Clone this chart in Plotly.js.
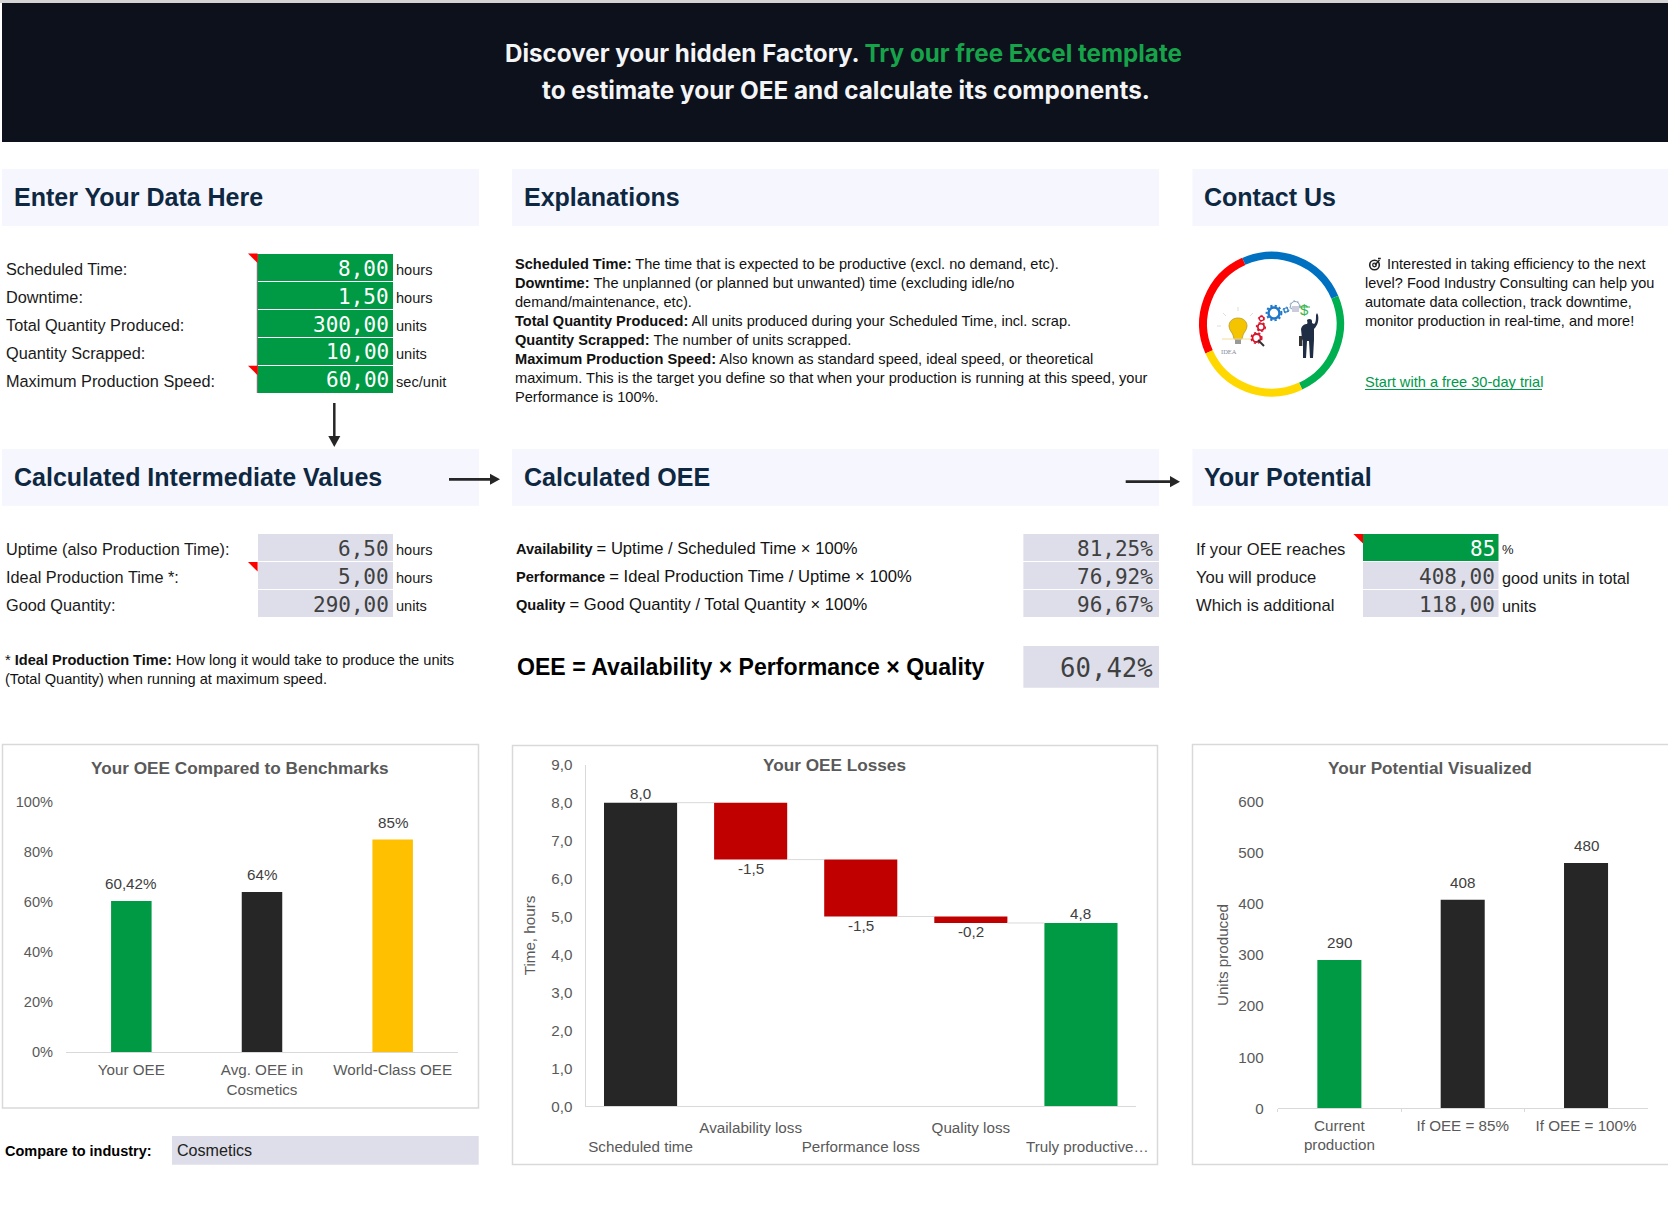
<!DOCTYPE html>
<html><head><meta charset="utf-8"><title>OEE</title>
<script src="https://cdn.plot.ly/plotly-3.0.1.min.js"></script>
<style>html,body{margin:0;padding:0;background:#fff;overflow:hidden}#page{width:1668px;height:1208px}</style>
</head><body><div id="page"></div>
<script>
// ---- chart data ----
const benchCategories = ['Your OEE', 'Avg. OEE in<br>Cosmetics', 'World-Class OEE'];
const benchValues = [60.42, 64, 85];
const benchLabels = ['60,42%', '64%', '85%'];
const benchTickValues = [0, 20, 40, 60, 80, 100];
const benchTickLabels = ['0%', '20%', '40%', '60%', '80%', '100%'];
const lossCategories = ['Scheduled time', 'Availability loss', 'Performance loss', 'Quality loss', '\u00A0\u00A0\u00A0Truly productive…'];
const lossValues = [8, -1.5, -1.5, -0.17, 4.83];
const lossBases = [0, 8, 6.5, 5, 0];
const lossLabels = ['8,0', '-1,5', '-1,5', '-0,2', '4,8'];
const potentialCategories = ['Current<br>production', 'If OEE = 85%', 'If OEE = 100%'];
const potentialValues = [290, 408, 480];
// ---- sheet data ----
const inputNames = ['Scheduled Time:', 'Downtime:', 'Total Quantity Produced:', 'Quantity Scrapped:', 'Maximum Production Speed:'];
const inputValues = ['8,00', '1,50', '300,00', '10,00', '60,00'];
const inputUnits = ['hours', 'hours', 'units', 'units', 'sec/unit'];
const interNames = ['Uptime (also Production Time):', 'Ideal Production Time *:', 'Good Quantity:'];
const interValues = ['6,50', '5,00', '290,00'];
const interUnits = ['hours', 'hours', 'units'];
const oeeBold = ['Availability', 'Performance', 'Quality'];
const oeeRest = ['= Uptime / Scheduled Time × 100%', '= Ideal Production Time / Uptime × 100%', '= Good Quantity / Total Quantity × 100%'];
const oeeValues = ['81,25%', '76,92%', '96,67%'];
const oeeTotal = '60,42%';
const potentialNames = ['If your OEE reaches', 'You will produce', 'Which is additional'];
const potentialCells = ['85', '408,00', '118,00'];
const potentialUnits = ['%', 'good units in total', 'units'];
const explanationLines = [
 '<b>Scheduled Time:</b> The time that is expected to be productive (excl. no demand, etc).',
 '<b>Downtime:</b> The unplanned (or planned but unwanted) time (excluding idle/no',
 'demand/maintenance, etc).',
 '<b>Total Quantity Produced:</b> All units produced during your Scheduled Time, incl. scrap.',
 '<b>Quantity Scrapped:</b> The number of units scrapped.',
 '<b>Maximum Production Speed:</b> Also known as standard speed, ideal speed, or theoretical',
 'maximum. This is the target you define so that when your production is running at this speed, your',
 'Performance is 100%.'];
const contactLines = ['Interested in taking efficiency to the next', 'level? Food Industry Consulting can help you', 'automate data collection, track downtime,', 'monitor production in real-time, and more!'];
const footnoteLines = ['* <b>Ideal Production Time:</b> How long it would take to produce the units', '(Total Quantity) when running at maximum speed.'];
const headerTitles = ['Enter Your Data Here', 'Explanations', 'Contact Us', 'Calculated Intermediate Values', 'Calculated OEE', 'Your Potential'];

// ---- styles ----
const W = 1668, H = 1208;
const GREEN = '#009A44', DARK = '#262626', RED = '#C00000', YEL = '#FFC000', CELL = '#DDDEE9', HEAD = '#F5F6FE', NAVY = '#0E2841', AXC = '#D9D9D9', AXT = '#595959', LBL = '#404040';
const SANS = '"Liberation Sans",Arial,sans-serif', MONO = '"DejaVu Sans Mono",monospace';
const X = v => v / W, Y = v => 1 - v / H;
const shapes = [], annotations = [];
function rect(x0, y0, x1, y1, fill, line) {
  shapes.push({type:'rect', xref:'paper', yref:'paper', x0:X(x0), x1:X(x1), y0:Y(y0), y1:Y(y1), fillcolor:fill||'rgba(0,0,0,0)', line: line||{width:0}, layer:'below'});
}
function poly(pts, fill) {
  const d = pts.map((p,i)=>(i?'L':'M')+X(p[0])+' '+Y(p[1])).join(' ')+' Z';
  shapes.push({type:'path', xref:'paper', yref:'paper', path:d, fillcolor:fill, line:{width:0}, layer:'below'});
}
function seg(x0,y0,x1,y1,color,width){
  shapes.push({type:'line', xref:'paper', yref:'paper', x0:X(x0), x1:X(x1), y0:Y(y0), y1:Y(y1), line:{color, width}, layer:'below'});
}
function txt(x, y, text, o) {
  o = o||{};
  annotations.push({xref:'paper', yref:'paper', x:X(x), y:Y(y), text, showarrow:false, borderpad:0, borderwidth:0,
    xanchor:o.anchor||'left', yanchor:'middle', align:o.anchor==='right'?'right':(o.anchor==='center'?'center':'left'),
    font:{family:o.family||SANS, size:o.size||14.6, color:o.color||'#000', weight:o.weight||'normal'}});
}
const tri = (xr, y) => poly([[xr-9.6,y],[xr,y],[xr,y+9.5]], '#FF0000');

// banner
rect(0,0,W,3,'#D4D4D4');
rect(2,3,W,142,'#0D111C');
txt(844,53.5,'Discover your hidden Factory. <span style="color:#17A34A">Try our free Excel template</span>',{anchor:'center',family:'Inter,sans-serif',size:24.2,color:'#F4F5F7',weight:700});
txt(846,90,'to estimate your OEE and calculate its components.',{anchor:'center',family:'Inter,sans-serif',size:24.3,color:'#F4F5F7',weight:700});

// header bands
const bandX = [[2,479],[512,1159],[1192.5,1668]], bandY = [[169,226],[449,505.7]];
headerTitles.forEach((t,i)=>{
  const c = i%3, r = Math.floor(i/3);
  rect(bandX[c][0],bandY[r][0],bandX[c][1],bandY[r][1],HEAD);
  txt(bandX[c][0]+11.5,(bandY[r][0]+bandY[r][1])/2-(r?0:0.8),t,{size:25,color:NAVY,weight:700});
});

// input rows
inputNames.forEach((n,i)=>{
  const top = 254+28*i;
  rect(257.6,top,393,top+27,GREEN);
  txt(6,top+15,n,{size:16.3,color:'#1a1a1a'});
  txt(389,top+14.5,inputValues[i],{anchor:'right',family:MONO,size:21,color:'#fff'});
  txt(396,top+16,inputUnits[i],{size:14.6,color:'#1a1a1a'});
});
seg(257.3,254,257.3,393,'#5a6a60',1);
tri(257.6,253.5); tri(257.6,365.7);

// intermediate rows
interNames.forEach((n,i)=>{
  const top = 534+28*i;
  rect(258,top,393,top+27,CELL);
  txt(6,top+15.3,n,{size:16.3,color:'#1a1a1a'});
  txt(389,top+14.5,interValues[i],{anchor:'right',family:MONO,size:21,color:LBL});
  txt(396,top+16,interUnits[i],{size:14.6,color:'#1a1a1a'});
});
tri(257.6,562);
footnoteLines.forEach((l,i)=>txt(5,660+19*i,l,{color:'#111'}));

// explanations & contact
explanationLines.forEach((l,i)=>txt(515,264+19*i,l,{color:'#111'}));
contactLines.forEach((l,i)=>txt(i?1365:1386.8,264+19*i,l,{color:'#111',size:14.5}));
txt(1365,382,'Start with a free 30-day trial',{color:'#00994A'});
seg(1365,389.5,1542,389.5,'#00994A',1);

// OEE rows
oeeBold.forEach((b,i)=>{
  const top = 534+28*i;
  txt(516,top+14.2,'<b>'+b+'</b> <span style="font-size:16.6px">'+oeeRest[i]+'</span>',{color:'#111'});
  rect(1023.4,top,1159,top+27,CELL);
  txt(1153,top+14.7,oeeValues[i],{anchor:'right',family:MONO,size:21,color:LBL});
});
txt(517,667,'<b>OEE = Availability × Performance × Quality</b>',{size:23.1,color:'#000'});
rect(1023.4,646,1159,687.7,CELL);
txt(1153,668,oeeTotal,{anchor:'right',family:MONO,size:25.7,color:LBL});

// potential rows
potentialNames.forEach((n,i)=>{
  const top = 534+28*i;
  rect(1363,top,1498.5,top+27,i?CELL:GREEN);
  txt(1195.5,top+15.3,n,{size:16.6,color:'#1a1a1a'});
  txt(1494.7,top+14.7,potentialCells[i],{anchor:'right',family:MONO,size:21,color:i?LBL:'#fff'});
  txt(1502,top+16-(i==2?0.5:0),potentialUnits[i],{size:i?16.3:13,color:'#1a1a1a'});
});
tri(1363,534);

// arrows
seg(334.3,403,334.3,437,DARK,2.5);
poly([[328.3,436],[340.3,436],[334.3,447]],DARK);
seg(449,479.3,491,479.3,DARK,2.8);
poly([[490,473.8],[490,484.8],[500,479.3]],DARK);
seg(1125.7,481.7,1171,481.7,DARK,2.8);
poly([[1170,476],[1170,487.2],[1180,481.7]],DARK);

// chart frames + titles
rect(2.5,744.5,478.5,1108,'#fff',{color:AXC,width:1.5});
rect(512.5,745.5,1157.5,1164.5,'#fff',{color:AXC,width:1.5});
rect(1192.5,744.5,1680,1164.5,'#fff',{color:AXC,width:1.5});
txt(240,768,'Your OEE Compared to Benchmarks',{anchor:'center',size:17.2,color:AXT,weight:700});
txt(834.6,765,'Your OEE Losses',{anchor:'center',size:17.2,color:AXT,weight:700});
txt(1430,768,'Your Potential Visualized',{anchor:'center',size:17.2,color:AXT,weight:700});

// compare row
txt(5,1151,'<b>Compare to industry:</b>',{size:14.5,color:'#000'});
rect(172,1136,478.7,1164.7,CELL);
txt(176.5,1150,'Cosmetics',{size:16.1,color:'#222'});

// data labels anchored to the chart scales
function dataLabel(xa, ya, x, y, text, shift){
  annotations.push({xref:xa, yref:ya, x, y, text, showarrow:false, yshift:shift, xanchor:'center', yanchor:'middle', borderpad:0,
    font:{family:SANS, size:15.2, color:LBL}});
}
benchValues.forEach((v,i)=>dataLabel('x','y',i,v,benchLabels[i],17.5));
lossValues.forEach((v,i)=> dataLabel('x2','y2',i,lossBases[i]+v,lossLabels[i],v>0?9:-8.8));
potentialValues.forEach((v,i)=>dataLabel('x3','y3',i,v,String(v),17.3));

// connectors of the waterfall
const cHalf = 0.332, connX = [], connY = [];
lossValues.slice(0,-1).forEach((v,i)=>{
  const lvl = lossBases[i]+v;
  connX.push(i+cHalf,i+1-cHalf,null); connY.push(lvl,lvl,null);
});

// logo artwork
function arc(a0,a1,color,cx,cy,r,w){
  const p=a=>{const t=a*Math.PI/180;return (cx+r*Math.sin(t)).toFixed(1)+' '+(cy-r*Math.cos(t)).toFixed(1)};
  return `<path d="M${p(a0)} A${r} ${r} 0 ${a1-a0>180?1:0} 1 ${p(a1)}" fill="none" stroke="${color}" stroke-width="${w}"/>`;
}
const gear=(x,y,r,c,w)=>`<circle cx="${x}" cy="${y}" r="${r}" fill="none" stroke="${c}" stroke-width="${w}"/><circle cx="${x}" cy="${y}" r="${r+w*0.75}" fill="none" stroke="${c}" stroke-width="${w*0.8}" stroke-dasharray="2.2 2.2"/>`;
const logo = `<svg xmlns="http://www.w3.org/2000/svg" width="220" height="170" viewBox="1190 240 220 170">`
 + arc(246,336,'#FF0000',1271.7,324,68.5,8) + arc(336,427,'#0070C0',1271.7,324,68.5,7.5)
 + arc(67,155,'#00B050',1271.7,324,68.5,7.5) + arc(155,246,'#FFD800',1271.7,324,68.5,8)
 + `<path d="M1238 318c-6 0-9 4-9 8 0 4 3 6 4 9l1 4h8l1-4c1-3 4-5 4-9 0-4-3-8-9-8z" fill="#F4C400" stroke="#b79a2a" stroke-width=".8"/><rect x="1235" y="339" width="6" height="5" fill="#999"/>`
 + `<path d="M1222 339h32" stroke="#f2dc9a" stroke-width="1"/><path d="M1238 311v-4M1226 316l-3-3M1250 316l3-3M1221 326h-4M1255 326h4" stroke="#ddd" stroke-width="1"/>`
 + gear(1256.5,338,4,'#D8122A',1.8) + gear(1261,327,3.2,'#D8122A',1.6) + gear(1261.5,318.5,2.2,'#D8122A',1.2)
 + `<path d="M1258 340l6 6" stroke="#333" stroke-width="2"/>`
 + gear(1274,313,5.5,'#1F78C8',2.5) + gear(1286,310,2,'#1F78C8',1.2)
 + gear(1295,306,4.5,'#8aa5c0',1) + `<rect x="1292" y="306" width="7" height="6" fill="#ccd" />`
 + `<path d="M1300 307h10" stroke="#39B54A" stroke-width="1"/>`
 + `<path d="M1301 329c1-4 4-5 6-5 1-1 0-3 0-4 2-2 5-1 5 1l0 2 2 1c2-1 2-5 2-9l1-2 1 2c1 5 0 10-4 14l0 11-1 18h-3l-1-17-2 0-1 17h-3l0-17-1-2z" fill="#1F2E45"/><rect x="1299" y="336" width="3.4" height="10" fill="#333"/>`
 + `<circle cx="1374.5" cy="265" r="4.8" fill="none" stroke="#222" stroke-width="1.6"/><circle cx="1374.5" cy="265" r="1.8" fill="none" stroke="#222" stroke-width="1.3"/><path d="M1375 265l4.5-5M1378 258.5l2.8 0" stroke="#222" stroke-width="1.4"/>`
 + `</svg>`;
annotations.push({xref:'paper',yref:'paper',x:X(1310),y:Y(300),text:'$',showarrow:false,borderpad:0,font:{family:SANS,size:15,color:'#39B54A'}});
annotations.push({xref:'paper',yref:'paper',x:X(1238),y:Y(347),text:'IDEA',showarrow:false,borderpad:0,font:{family:'"Liberation Serif",serif',size:6.5,color:'#889'}});

const tickFont = {family:SANS, size:15.2, color:AXT};
const smallTickFont = {family:SANS, size:14.6, color:AXT};
const hide = {hoverinfo:'skip', showlegend:false, cliponaxis:false};
const traces = [
  Object.assign({type:'bar', name:'OEE', x:benchCategories, y:benchValues, width:0.31, marker:{color:[GREEN,DARK,YEL]}, xaxis:'x', yaxis:'y'}, hide),
  Object.assign({type:'bar', name:'Hours', x:lossCategories.map((c,i)=>i), y:lossValues, base:lossBases, width:0.664, marker:{color:[DARK,RED,RED,RED,GREEN]}, xaxis:'x2', yaxis:'y2'}, hide),
  {type:'scatter', mode:'lines', name:'Connectors', x:connX, y:connY, line:{color:AXC,width:1}, xaxis:'x2', yaxis:'y2', hoverinfo:'skip', showlegend:false},
  Object.assign({type:'bar', name:'Units', x:potentialCategories, y:potentialValues, width:0.357, marker:{color:[GREEN,DARK,DARK]}, xaxis:'x3', yaxis:'y3'}, hide)
];
const layout = {
  width:W, height:H, margin:{l:0,r:0,t:0,b:0}, paper_bgcolor:'#fff', plot_bgcolor:'rgba(0,0,0,0)',
  separators:',.', showlegend:false, shapes, annotations,
  images:[{source:'data:image/svg+xml;charset=utf-8,'+encodeURIComponent(logo), xref:'paper', yref:'paper', x:X(1190), y:Y(240), sizex:220/W, sizey:170/H, sizing:'stretch', xanchor:'left', yanchor:'top', layer:'above'}],
  xaxis:{domain:[X(66),X(458)], anchor:'y', type:'category', showline:true, linecolor:AXC, linewidth:1, showgrid:false, ticks:'', tickangle:0, tickfont:tickFont, ticklabelstandoff:4},
  yaxis:{domain:[Y(1052),Y(802)], anchor:'x', range:[0,100], tickvals:benchTickValues, ticktext:benchTickLabels, showgrid:false, zeroline:false, showline:false, ticks:'outside', ticklen:9, tickcolor:'rgba(0,0,0,0)', tickfont:smallTickFont},
  xaxis2:{domain:[X(585.5),X(1136)], anchor:'y2', range:[-0.5,4.5], tickvals:lossCategories.map((c,i)=>i), ticktext:lossCategories.map((c,i)=>i%2?c:'<br>'+c), showline:true, linecolor:AXC, linewidth:1, showgrid:false, zeroline:false, ticks:'', tickangle:0, tickfont:tickFont, ticklabelstandoff:7},
  yaxis2:{domain:[Y(1106.3),Y(764.7)], anchor:'x2', range:[0,9], dtick:1, tickformat:'.1f', showline:true, linecolor:AXC, linewidth:1, showgrid:false, zeroline:false, ticks:'outside', ticklen:9, tickcolor:'rgba(0,0,0,0)', tickfont:tickFont,
    title:{text:'Time, hours', font:tickFont, standoff:12}},
  xaxis3:{domain:[X(1277.7),X(1647.7)], anchor:'y3', type:'category', showline:true, linecolor:AXC, linewidth:1, showgrid:false, ticks:'outside', ticklen:3, tickcolor:AXC, tickson:'boundaries', tickangle:0, tickfont:tickFont, ticklabelstandoff:3},
  yaxis3:{domain:[Y(1108.3),Y(801.7)], anchor:'x3', range:[0,600], dtick:100, showgrid:false, zeroline:false, showline:false, ticks:'outside', ticklen:10, tickcolor:'rgba(0,0,0,0)', tickfont:tickFont,
    title:{text:'Units produced', font:tickFont, standoff:5}}
};
Plotly.newPlot('page', traces, layout, {staticPlot:true, displayModeBar:false, responsive:false});
</script></body></html>
